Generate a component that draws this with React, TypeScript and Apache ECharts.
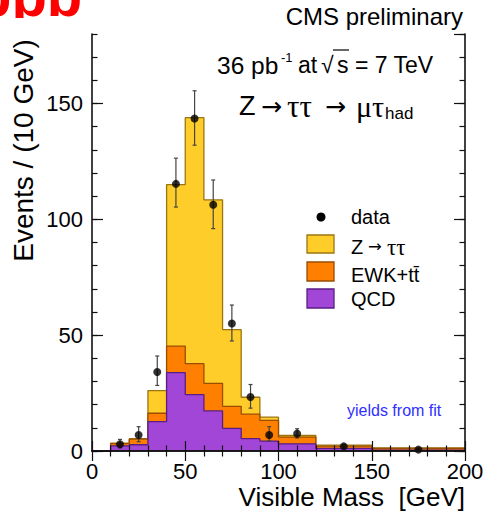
import React, { useEffect, useRef } from "react";
import * as echarts from "echarts";

// ---- data ----
const binEdges = [0, 10, 20, 30, 40, 50, 60, 70, 80, 90, 100, 120, 150, 200];
const qcdVals = [0, 2.2, 2.7, 12.7, 33.8, 24.3, 17.3, 9.8, 5.3, 4.3, 3.1, 1.1, 0.4];
const ewkVals = [0, 1.0, 2.4, 3.6, 11.5, 13.4, 11.9, 9.5, 10.6, 8.9, 2.9, 1.0, 0.7];
const zttVals = [0, 0.2, 0.2, 9.8, 69.7, 106.2, 79.2, 33.1, 7.3, 1.4, 0.7, 0.4, 0.2];

const dataX = [15, 25, 35, 45, 55, 65, 75, 85, 95, 110, 135, 175];
const dataY = [2.9, 6.9, 34.1, 115.3, 143.5, 106.3, 55.0, 23.3, 6.9, 7.5, 2.0, 0.6];
const errLo = [1.3, 4.0, 28.3, 105.3, 132.0, 96.0, 47.5, 18.5, 4.3, 5.6, 1.2, 0.3];
const errHi = [5.0, 10.5, 41.0, 126.4, 155.5, 117.0, 63.0, 28.7, 10.5, 9.6, 2.8, 0.9];

const xTicks = [0, 50, 100, 150, 200];
const yTicks = [0, 50, 100, 150];
const yMax = 180;

const FONT = "'Liberation Sans', Arial, Helvetica, sans-serif";
const SERIF = "'Liberation Serif', 'DejaVu Serif', serif";
const ARROW = "'DejaVu Sans', sans-serif";

const C = {
  ztt: "#FFCD2A",
  zttEdge: "#9A7510",
  ewk: "#FF8000",
  ewkEdge: "#9A4C00",
  qcd: "#A146D6",
  qcdEdge: "#5A1E86",
};

function stepData(tops: number[]) {
  const pts: number[][] = tops.map((t, i) => [binEdges[i], t]);
  const last = binEdges[binEdges.length - 1];
  pts.push([last, tops[tops.length - 1]]);
  pts.push([last, 0]);
  return pts;
}

export default function App() {
  const ref = useRef<HTMLDivElement>(null);
  useEffect(() => {
    if (!ref.current) return;
    const chart = echarts.init(ref.current, undefined, { renderer: "svg" });

    const qcdTop = qcdVals.map((v) => v);
    const ewkTop = qcdVals.map((v, i) => v + ewkVals[i]);
    const totTop = qcdVals.map((v, i) => v + ewkVals[i] + zttVals[i]);

    const tickLine = { color: "#111", width: 1.2 };
    const frameLine = { show: true, lineStyle: { color: "#111", width: 1.6 } };

    const xBase = (pos: string, labels: boolean) => ({
      type: "value",
      position: pos,
      min: xTicks[0],
      max: xTicks[xTicks.length - 1],
      interval: xTicks[1] - xTicks[0],
      z: 10,
      axisLine: frameLine,
      axisTick: { show: true, inside: true, length: 10, lineStyle: tickLine },
      minorTick: { show: true, splitNumber: 5, length: 5.5, lineStyle: tickLine },
      splitLine: { show: false },
      minorSplitLine: { show: false },
      axisLabel: labels
        ? {
            show: true,
            fontSize: 22,
            color: "#000",
            fontFamily: FONT,
            margin: 9,
            formatter: (v: number) => (xTicks.includes(v) ? String(v) : ""),
          }
        : { show: false },
    });

    const yBase = (pos: string, interval: number, len: number, labels: boolean, line: boolean) => ({
      type: "value",
      position: pos,
      min: 0,
      max: yMax,
      interval,
      z: 10,
      axisLine: line ? frameLine : { show: false },
      axisTick: { show: true, inside: true, length: len, lineStyle: tickLine },
      splitLine: { show: false },
      axisLabel: labels
        ? {
            show: true,
            fontSize: 22,
            color: "#000",
            fontFamily: FONT,
            margin: 9,
            showMaxLabel: false,
            formatter: (v: number) => (yTicks.includes(v) ? String(v) : ""),
          }
        : { show: false },
    });

    const stepSeries = (name: string, tops: number[], fill: string, edge: string, z: number) => ({
      name,
      type: "line",
      step: "end",
      data: stepData(tops),
      symbol: "none",
      showSymbol: false,
      xAxisIndex: 0,
      yAxisIndex: 0,
      z,
      silent: true,
      lineStyle: { color: edge, width: 1.3 },
      areaStyle: { color: fill, opacity: 1 },
    });

    const txt = (
      text: string,
      x: number,
      y: number,
      fontSize: number,
      opts: any = {}
    ) => ({
      type: "text",
      x,
      y,
      silent: true,
      z: 100,
      rotation: opts.rotation || 0,
      style: {
        text,
        fill: opts.fill || "#000",
        fontSize,
        fontFamily: opts.family || FONT,
        fontWeight: opts.weight || "normal",
        align: opts.align || "left",
        verticalAlign: "middle",
      },
    });

    chart.setOption({
      animation: false,
      textStyle: { fontFamily: FONT },
      grid: { left: 92, right: 20, top: 34, bottom: 67, containLabel: false, outerBoundsMode: "none" },
      xAxis: [xBase("bottom", true), xBase("top", false)],
      yAxis: [
        yBase("left", 50, 11, true, true),
        yBase("left", 10, 5.5, false, false),
        yBase("right", 50, 11, false, true),
        yBase("right", 10, 5.5, false, false),
      ],
      series: [
        stepSeries("Z → ττ", totTop, C.ztt, C.zttEdge, 2),
        stepSeries("EWK+tt̄", ewkTop, C.ewk, C.ewkEdge, 3),
        stepSeries("QCD", qcdTop, C.qcd, C.qcdEdge, 4),
        {
          name: "errors",
          type: "custom",
          xAxisIndex: 0,
          yAxisIndex: 0,
          z: 5,
          silent: true,
          encode: { x: 0, y: 1 },
          data: dataX.map((x, i) => [x, dataY[i], errLo[i], errHi[i]]),
          renderItem: (params: any, api: any) => {
            const x = api.value(0);
            const p1 = api.coord([x, api.value(2)]);
            const p2 = api.coord([x, api.value(3)]);
            const st = { stroke: "#444", lineWidth: 1.2 };
            return {
              type: "group",
              children: [
                { type: "line", shape: { x1: p1[0], y1: p1[1], x2: p2[0], y2: p2[1] }, style: st },
                { type: "line", shape: { x1: p1[0] - 2, y1: p1[1], x2: p1[0] + 2, y2: p1[1] }, style: st },
                { type: "line", shape: { x1: p2[0] - 2, y1: p2[1], x2: p2[0] + 2, y2: p2[1] }, style: st },
              ],
            };
          },
        },
        {
          name: "data",
          type: "scatter",
          xAxisIndex: 0,
          yAxisIndex: 0,
          z: 6,
          silent: true,
          symbol: "circle",
          symbolSize: 8,
          itemStyle: { color: "#000" },
          data: dataX.map((x, i) => [x, dataY[i]]),
        },
      ],
      graphic: [
        // red clipped title remnant (cut off at the top in the reference too)
        txt("ppb", -24, -4.8, 58, { fill: "#ff0000", weight: "bold" }),
        { type: "rect", shape: { x: 0, y: 18, width: 88, height: 15 }, style: { fill: "#fff" }, z: 101, silent: true },
        txt("CMS preliminary", 463, 16.6, 24, { align: "right" }),
        txt("36 pb", 217, 65, 24.5),
        txt("-1", 281, 57, 13),
        txt("at", 298, 65, 23),
        txt("√", 321, 65, 23),
        { type: "line", shape: { x1: 333, y1: 50, x2: 349, y2: 50 }, style: { stroke: "#000", lineWidth: 1.2 }, z: 100, silent: true },
        txt("s = 7 TeV", 337, 65, 23),
        txt("Z", 239, 105.6, 27),
        txt("→", 261, 106, 25, { family: ARROW }),
        txt("ττ", 287, 106, 31, { family: SERIF }),
        txt("→", 325, 106, 25, { family: ARROW }),
        txt("μτ", 356, 106, 30, { family: SERIF }),
        txt("had", 385, 113, 17),
        // legend
        { type: "circle", shape: { cx: 321, cy: 217, r: 4.5 }, style: { fill: "#000" }, z: 100, silent: true },
        txt("data", 351, 217, 20),
        { type: "rect", shape: { x: 307, y: 235, width: 27, height: 18 }, style: { fill: C.ztt, stroke: C.zttEdge, lineWidth: 1.3 }, z: 100, silent: true },
        txt("Z", 351, 246.5, 20),
        txt("→", 368, 246.5, 16.5, { family: ARROW }),
        txt("ττ", 387, 247, 23, { family: SERIF }),
        { type: "rect", shape: { x: 307, y: 262, width: 27, height: 19 }, style: { fill: C.ewk, stroke: C.ewkEdge, lineWidth: 1.3 }, z: 100, silent: true },
        txt("EWK+tt̄", 351, 275, 20),
        { type: "rect", shape: { x: 307, y: 289, width: 27, height: 19 }, style: { fill: C.qcd, stroke: C.qcdEdge, lineWidth: 1.3 }, z: 100, silent: true },
        txt("QCD", 351, 298.5, 20),
        txt("yields from fit", 347, 410.4, 16, { fill: "#2f2fff" }),
        // axis titles
        txt("Visible Mass  [GeV]", 465, 497, 26, { align: "right" }),
        txt("Events / (10 GeV)", 23, 150.5, 28, { align: "center", rotation: Math.PI / 2 }),
      ],
    });
    return () => chart.dispose();
  }, []);
  return (
    <div
      ref={ref}
      style={{ position: "fixed", left: 0, top: 0, width: 485, height: 518, background: "#fff" }}
    />
  );
}
